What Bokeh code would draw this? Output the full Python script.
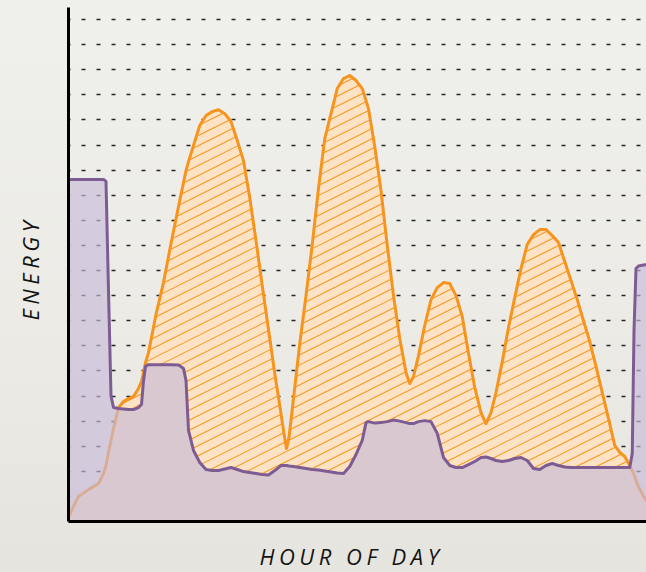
from bokeh.plotting import figure
from bokeh.models import FixedTicker, SingleIntervalTicker, InlineStyleSheet, GlobalInlineStyleSheet, Title
from bokeh.embed import file_html
from bokeh.resources import INLINE
import numpy as np

# ---------------- data ----------------
hours = [0.0, 0.2, 0.4, 0.8, 1.2, 1.4, 1.5, 1.6, 1.7, 1.8,
         2.0, 2.2, 2.4, 2.6, 2.8, 2.92, 3.0, 3.08, 3.2, 3.5,
         3.8, 4.1, 4.4, 4.6, 4.7, 4.8, 5.0, 5.25, 5.5, 5.75,
         6.0, 6.25, 6.5, 6.75, 7.0, 7.25, 7.5, 7.75, 8.0, 8.25,
         8.5, 8.62, 8.72, 8.82, 9.0, 9.25, 9.5, 9.75, 10.0, 10.25,
         10.5, 10.75, 11.0, 11.25, 11.5, 11.75, 11.9, 12.0, 12.25, 12.5,
         12.75, 13.0, 13.25, 13.5, 13.65, 13.8, 14.0, 14.25, 14.5, 14.75,
         15.0, 15.25, 15.5, 15.75, 16.0, 16.25, 16.5, 16.7, 16.9, 17.1,
         17.35, 17.6, 17.85, 18.1, 18.35, 18.6, 18.85, 19.1, 19.35, 19.6,
         19.85, 20.1, 20.35, 20.6, 20.85, 21.1, 21.35, 21.6, 21.85, 22.05,
         22.25, 22.45, 22.55, 22.62, 22.7, 22.8, 23.0, 23.2]

demand = [0.16, 0.60, 1.00, 1.27, 1.51, 1.91, 2.23, 2.75, 3.23, 3.70,
          4.54, 4.78, 4.90, 4.98, 5.30, 5.58, 5.94, 6.33, 6.73, 8.25,
          9.52, 11.08, 12.55, 13.50, 13.98, 14.34, 14.98, 15.78, 16.18, 16.33,
          16.41, 16.25, 15.94, 15.18, 14.38, 12.90, 11.20, 9.40, 7.65, 5.90,
          4.30, 3.50, 2.91, 3.35, 4.90, 7.09, 9.00, 11.04, 13.27, 15.26,
          16.25, 17.25, 17.65, 17.77, 17.57, 17.25, 16.77, 16.45, 14.94, 13.19,
          11.00, 9.00, 7.29, 5.94, 5.50, 5.78, 6.61, 7.81, 8.84, 9.32,
          9.52, 9.48, 9.00, 8.17, 6.69, 5.34, 4.34, 3.90, 4.34, 5.14,
          6.37, 7.73, 8.92, 10.08, 11.04, 11.43, 11.63, 11.63, 11.39, 11.12,
          10.36, 9.60, 8.84, 8.00, 7.17, 6.18, 5.14, 4.10, 3.03, 2.75,
          2.59, 2.23, 2.03, 1.87, 1.63, 1.39, 1.00, 0.72]

supply = [13.63, 13.63, 13.63, 13.63, 13.63, 13.63, 13.55, 9.20, 5.00, 4.54,
          4.50, 4.48, 4.46, 4.46, 4.54, 4.66, 5.60, 6.18, 6.25, 6.25,
          6.25, 6.25, 6.24, 6.10, 5.62, 3.63, 2.83, 2.35, 2.07, 2.03,
          2.03, 2.09, 2.15, 2.07, 1.99, 1.95, 1.91, 1.87, 1.85, 2.03,
          2.23, 2.23, 2.23, 2.21, 2.19, 2.15, 2.11, 2.07, 2.05, 2.01,
          1.97, 1.93, 1.91, 2.19, 2.67, 3.23, 3.94, 3.98, 3.92, 3.94,
          3.98, 4.04, 4.00, 3.94, 3.90, 3.90, 3.98, 4.02, 3.98, 3.51,
          2.55, 2.23, 2.15, 2.15, 2.27, 2.39, 2.55, 2.57, 2.51, 2.43,
          2.39, 2.43, 2.51, 2.55, 2.43, 2.11, 2.07, 2.23, 2.31, 2.23,
          2.17, 2.15, 2.15, 2.15, 2.15, 2.15, 2.15, 2.15, 2.15, 2.15,
          2.15, 2.15, 2.71, 7.60, 10.08, 10.18, 10.22, 10.24]

x_title = "HOUR OF DAY"
y_title = "ENERGY"

# ---------------- figure ----------------
W, H = 646, 572
LEFT, TOP, BOTTOM = 68, 7, 51
X_END, Y_END = 23.12, 20.48
SPACING = 4.5   # letter spacing of the axis titles, px

p = figure(width=W, height=H, output_backend="svg", toolbar_location=None,
           x_range=(0, X_END), y_range=(0, Y_END),
           min_border_left=LEFT, min_border_right=0, min_border_top=TOP,
           min_border_bottom=BOTTOM)

p.stylesheets = [
    InlineStyleSheet(css=":host { letter-spacing: %.1fpx; }" % SPACING),
    GlobalInlineStyleSheet(css="html, body { background: linear-gradient(180deg, #f0f0ec 0%, #ecebe6 55%, #e5e4de 100%); }"),
]
p.background_fill_alpha = 0
p.border_fill_alpha = 0
p.outline_line_color = None

for ax in (p.xaxis, p.yaxis):
    # one hidden tick (no mark, no label): its tick length only reserves space
    ax.ticker = FixedTicker(ticks=[10])
    ax.major_label_overrides = {10: ""}
    ax.major_label_text_font_size = "0px"
    ax.major_label_standoff = 0
    ax.axis_line_width = 3
    ax.axis_line_color = "#000000"
    ax.major_tick_line_color = None
    ax.minor_tick_line_color = None
    ax.major_tick_in = 0
p.xaxis.major_tick_out = 17
p.yaxis.major_tick_out = 24

# axis titles (start-aligned so the letter spacing runs the same way as the reference)
title_style = dict(text_font="Open Sans", text_font_style="italic",
                   text_font_size="22px", text_color="#141414",
                   align="left", vertical_align="bottom", standoff=0)
p.add_layout(Title(text=x_title, offset=191, **title_style), "below")
p.add_layout(Title(text=y_title, offset=201, **title_style), "left")

p.xgrid.visible = False
p.ygrid.ticker = SingleIntervalTicker(interval=1)
p.ygrid.grid_line_color = "#262626"
p.ygrid.grid_line_width = 1.6
p.ygrid.grid_line_dash = "4 11"
p.ygrid.grid_line_dash_offset = 2

demand_arr = np.array(demand)
supply_arr = np.array(supply)
upper = np.maximum(demand_arr, supply_arr)

# light peach under the demand curve
p.varea(x=hours, y1=0, y2=demand, fill_color="#fde2c4", fill_alpha=1)

# diagonal hatching of the demand excess (lines rising 1 px per 2 px, 10 px apart)
frame_w = W - LEFT
frame_h = H - TOP - BOTTOM
pph = frame_w / X_END      # pixels per hour
ppv = frame_h / Y_END      # pixels per energy unit
h_fine = np.linspace(hours[0], hours[-1], 6000)
sup_f = np.interp(h_fine, hours, supply_arr)
up_f = np.interp(h_fine, hours, upper)
hx, hy = [], []
for b in np.arange(-frame_w / 2 - 20, frame_h + 20, 10.0):
    v_line = (b + h_fine * pph / 2) / ppv
    inside = (v_line > sup_f) & (v_line < up_f)
    if not inside.any():
        continue
    d = np.diff(inside.astype(int))
    starts = list(np.where(d == 1)[0] + 1)
    ends = list(np.where(d == -1)[0])
    if inside[0]:
        starts = [0] + starts
    if inside[-1]:
        ends = ends + [len(inside) - 1]
    for s, e in zip(starts, ends):
        if e > s:
            hx.append([h_fine[s], h_fine[e]])
            hy.append([v_line[s], v_line[e]])
p.multi_line(xs=hx, ys=hy, line_color="#f7941d", line_width=1.1, line_alpha=0.95)

p.line(x=hours, y=demand, line_color="#f7941d", line_width=3, line_join="round")

p.varea(x=hours, y1=0, y2=supply, fill_color="#c7bad8", fill_alpha=0.65)
p.line(x=hours, y=supply, line_color="#7d5b93", line_width=3, line_join="round")

open("out.html", "w").write(file_html(p, INLINE))
